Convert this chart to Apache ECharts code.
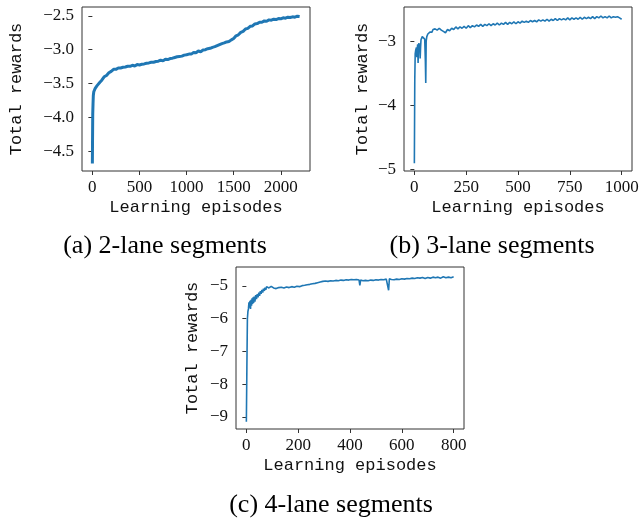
<!DOCTYPE html>
<html>
<head>
<meta charset="utf-8">
<script src="https://cdn.jsdelivr.net/npm/echarts@6/dist/echarts.min.js"></script>
<style>
  html, body { margin: 0; padding: 0; background: #fff; }
  #main { width: 644px; height: 521px; }
</style>
</head>
<body>
<div id="main"></div>
<script>
// (a) 2-lane segments
var epA = [0, 2, 4, 7, 10, 15, 20, 30, 40, 50, 65, 80, 100, 125, 150, 175, 200,
  225, 250, 275, 300, 325, 350, 375, 400, 425, 450, 475, 500, 525, 550, 575, 600,
  625, 650, 675, 700, 725, 750, 775, 800, 825, 850, 875, 900, 925, 950, 975, 1000,
  1025, 1050, 1075, 1100, 1125, 1150, 1175, 1200, 1225, 1250, 1275, 1300, 1325, 1350,
  1375, 1400, 1425, 1450, 1475, 1500, 1525, 1550, 1575, 1600, 1625, 1650, 1675, 1700,
  1725, 1750, 1775, 1800, 1825, 1850, 1875, 1900, 1925, 1950, 1975, 2000, 2025, 2050,
  2075, 2100, 2125, 2150, 2175, 2200];
var rewardA = [-4.68, -4.30, -3.95, -3.80, -3.68, -3.62, -3.60, -3.57, -3.56, -3.53, -3.52, -3.48, -3.45, -3.40, -3.38, -3.34, -3.32,
  -3.29, -3.29, -3.27, -3.27, -3.26, -3.255, -3.245, -3.245, -3.23, -3.24, -3.22, -3.225, -3.215, -3.21, -3.20, -3.195,
  -3.185, -3.185, -3.175, -3.17, -3.155, -3.165, -3.14, -3.145, -3.13, -3.125, -3.115, -3.105, -3.10, -3.095, -3.08, -3.075,
  -3.065, -3.065, -3.04, -3.045, -3.02, -3.03, -3.005, -3.0, -2.985, -2.98, -2.965, -2.955, -2.94, -2.925,
  -2.91, -2.90, -2.885, -2.88, -2.855, -2.835, -2.795, -2.78, -2.745, -2.73, -2.695, -2.685, -2.655, -2.65,
  -2.62, -2.615, -2.595, -2.595, -2.575, -2.58, -2.56, -2.565, -2.55, -2.555, -2.54, -2.545, -2.53, -2.535,
  -2.52, -2.525, -2.515, -2.52, -2.505, -2.51];

// (b) 3-lane segments
var epB = [0, 2, 4, 6, 8, 10, 12, 14, 16, 18, 20, 22, 24, 26, 28, 30, 32, 35, 38, 42, 46, 50, 53, 55, 57,
  60, 65, 70, 75, 80, 85, 90, 95,
  100, 110, 120, 130, 140, 150, 160, 170, 180, 190, 200, 210, 220, 230, 240, 250, 260, 270, 280, 290,
  300, 310, 320, 330, 340, 350, 360, 370, 380, 390, 400, 410, 420, 430, 440, 450, 460, 470, 480, 490,
  500, 510, 520, 530, 540, 550, 560, 570, 580, 590, 600, 610, 620, 630, 640, 650, 660, 670, 680, 690,
  700, 710, 720, 730, 740, 750, 760, 770, 780, 790, 800, 810, 820, 830, 840, 850, 860, 870, 880, 890,
  900, 910, 920, 930, 940, 950, 960, 970, 980, 990, 1000];
var rewardB = [-4.90, -3.60, -3.20, -3.15, -3.12, -3.10, -3.25, -3.12, -3.05, -3.34, -3.08, -3.03, -3.10, -3.05, -3.27, -3.10, -2.98, -2.95, -2.93, -2.91, -2.94, -2.97, -3.30, -3.65, -3.00,
  -2.93, -2.89, -2.87, -2.86, -2.84, -2.86, -2.82, -2.84,
  -2.81, -2.83, -2.80, -2.83, -2.85, -2.87, -2.82, -2.84, -2.80, -2.82, -2.78, -2.81, -2.78, -2.80, -2.77, -2.80, -2.76, -2.79, -2.76, -2.78,
  -2.75, -2.77, -2.74, -2.77, -2.74, -2.76, -2.73, -2.76, -2.73, -2.75, -2.72, -2.75, -2.72, -2.74, -2.71, -2.74, -2.71, -2.73, -2.70, -2.73,
  -2.70, -2.72, -2.69, -2.71, -2.69, -2.71, -2.68, -2.70, -2.68, -2.70, -2.67, -2.69, -2.67, -2.69, -2.66, -2.69, -2.66, -2.68, -2.65, -2.68,
  -2.65, -2.67, -2.65, -2.67, -2.64, -2.67, -2.64, -2.66, -2.64, -2.66, -2.63, -2.66, -2.63, -2.65, -2.63, -2.65, -2.62, -2.65, -2.62, -2.64,
  -2.61, -2.64, -2.62, -2.64, -2.61, -2.64, -2.62, -2.63, -2.62, -2.64, -2.66];

// (c) 4-lane segments
var epC = [0, 2, 4, 6, 8, 10, 12, 14, 16, 18, 20, 22, 24, 26, 28, 30, 33, 36, 39, 42, 45, 48, 51, 54, 57, 60,
  63, 66, 69, 72, 75, 78, 81, 84, 87, 90, 93, 96,
  100, 105, 110, 115, 120, 125, 130, 135, 140, 145, 150, 155, 160, 165, 170, 175, 180, 185, 190, 195,
  200, 205, 210, 215, 220, 225, 230, 235, 240, 245, 250, 255, 260, 265, 270, 275, 280, 285, 290, 295,
  300, 305, 310, 315, 320, 325, 330, 335, 340, 345, 350, 355, 360, 365, 370, 375, 380, 385, 390, 395,
  400, 405, 410, 415, 420, 425, 430, 435, 438, 441, 445, 450, 455, 460, 465, 470, 475, 480, 485, 490, 495,
  500, 505, 510, 515, 520, 525, 530, 535, 540, 545, 549, 552, 555, 560, 565, 570, 575, 580, 585, 590, 595,
  600, 605, 610, 615, 620, 625, 630, 635, 640, 645, 650, 655, 660, 665, 670, 675, 680, 685, 690, 695,
  700, 705, 710, 715, 720, 725, 730, 735, 740, 745, 750, 755, 760, 765, 770, 775, 780, 785, 790, 795, 800];
var rewardC = [-9.15, -7.5, -6.0, -5.78, -5.70, -5.50, -5.66, -5.45, -5.70, -5.42, -5.60, -5.38, -5.55, -5.35, -5.52, -5.32, -5.48, -5.28, -5.40, -5.25, -5.35, -5.20, -5.30, -5.16, -5.24, -5.12,
  -5.20, -5.08, -5.15, -5.05, -5.12, -5.02, -5.08, -5.01, -5.06, -5.00, -5.05, -5.01,
  -5.01, -5.06, -5.03, -5.08, -5.13, -5.05, -5.09, -5.04, -5.10, -5.06, -5.08, -5.03, -5.09, -5.05, -5.07, -5.02, -5.08, -5.04, -5.06, -5.01,
  -5.07, -5.02, -5.05, -4.99, -5.04, -4.98, -5.03, -4.96, -5.01, -4.95, -5.00, -4.93, -4.98, -4.92, -4.96, -4.90, -4.94, -4.88, -4.92, -4.86,
  -4.90, -4.85, -4.91, -4.86, -4.89, -4.84, -4.90, -4.85, -4.88, -4.83, -4.89, -4.84, -4.87, -4.82, -4.88, -4.83, -4.86, -4.81, -4.87, -4.82,
  -4.85, -4.80, -4.86, -4.81, -4.84, -4.80, -4.85, -4.82, -4.98, -4.82, -4.80, -4.84, -4.79, -4.83, -4.78, -4.84, -4.79, -4.82, -4.77, -4.83, -4.78,
  -4.81, -4.76, -4.82, -4.77, -4.80, -4.75, -4.81, -4.76, -4.79, -4.75, -5.13, -4.78, -4.76, -4.80, -4.75, -4.81, -4.76, -4.79, -4.74, -4.80, -4.75,
  -4.78, -4.73, -4.79, -4.74, -4.77, -4.72, -4.78, -4.73, -4.76, -4.71, -4.77, -4.72, -4.75, -4.70, -4.76, -4.71, -4.74, -4.70, -4.77, -4.71,
  -4.74, -4.70, -4.76, -4.71, -4.73, -4.69, -4.75, -4.70, -4.73, -4.69, -4.76, -4.70, -4.72, -4.69, -4.75, -4.70, -4.73, -4.69, -4.75, -4.70, -4.72];

// tick labels
var xTicksA = [0, 500, 1000, 1500, 2000];
var yTicksA = [-4.5, -4.0, -3.5, -3.0, -2.5];
var xTicksB = [0, 250, 500, 750, 1000];
var yTicksB = [-5, -4, -3];
var xTicksC = [0, 200, 400, 600, 800];
var yTicksC = [-9, -8, -7, -6, -5];

var captions = ['(a) 2-lane segments', '(b) 3-lane segments', '(c) 4-lane segments'];

function pairs(xs, ys) {
  return xs.map(function (x, i) { return [x, ys[i]]; });
}

var tickFont = { fontFamily: 'Liberation Serif', fontSize: 17, color: '#111' };
var nameFont = { fontFamily: 'Liberation Mono', fontSize: 17, color: '#111' };
var capFont = { fontFamily: 'Liberation Serif', fontSize: 26, fontWeight: 'normal', color: '#000' };

function fmtY(decimals) {
  return function (v) {
    return (v < 0 ? '\u2212' : '') + Math.abs(v).toFixed(decimals);
  };
}

function xAxis(idx, min, max, ticks) {
  return {
    type: 'value', gridIndex: idx, min: min, max: max,
    name: 'Learning episodes', nameLocation: 'middle', nameGap: 28, nameTextStyle: nameFont,
    axisLine: { show: false },
    axisTick: { show: true, length: 4, customValues: ticks, lineStyle: { color: '#333' } },
    axisLabel: Object.assign({ customValues: ticks, margin: 8, formatter: function (v) { return String(v); } }, tickFont),
    splitLine: { show: false }
  };
}

function yAxis(idx, min, max, ticks, decimals, gap) {
  return {
    type: 'value', gridIndex: idx, min: min, max: max,
    name: 'Total rewards', nameLocation: 'middle', nameGap: gap, nameTextStyle: nameFont,
    axisLine: { show: false },
    axisTick: { show: true, length: 4, customValues: ticks, lineStyle: { color: '#333' } },
    axisLabel: Object.assign({ customValues: ticks, margin: 8, formatter: fmtY(decimals) }, tickFont),
    splitLine: { show: false }
  };
}

var gridStyle = { show: true, borderColor: '#333', borderWidth: 1, backgroundColor: 'transparent' };

var chart = echarts.init(document.getElementById('main'), null, { renderer: 'canvas' });
chart.setOption({
  animation: false,
  title: [
    { text: captions[0], left: 160, top: 228, textAlign: 'center', textStyle: capFont },
    { text: captions[1], left: 487, top: 228, textAlign: 'center', textStyle: capFont },
    { text: captions[2], left: 326, top: 487, textAlign: 'center', textStyle: capFont }
  ],
  grid: [
    Object.assign({ left: 82, top: 7, width: 228, height: 164 }, gridStyle),
    Object.assign({ left: 404, top: 7, width: 228, height: 164 }, gridStyle),
    Object.assign({ left: 236, top: 267, width: 228, height: 162 }, gridStyle)
  ],
  xAxis: [
    xAxis(0, -110, 2310, xTicksA),
    xAxis(1, -50, 1050, xTicksB),
    xAxis(2, -40, 840, xTicksC)
  ],
  yAxis: [
    yAxis(0, -4.79, -2.37, yTicksA, 1, 57),
    yAxis(1, -5.02, -2.47, yTicksB, 0, 33),
    yAxis(2, -9.37, -4.42, yTicksC, 0, 35)
  ],
  series: [
    { type: 'line', xAxisIndex: 0, yAxisIndex: 0, data: pairs(epA, rewardA), showSymbol: false,
      lineStyle: { color: '#1f77b4', width: 3 } },
    { type: 'line', xAxisIndex: 1, yAxisIndex: 1, data: pairs(epB, rewardB), showSymbol: false,
      lineStyle: { color: '#1f77b4', width: 1.6 } },
    { type: 'line', xAxisIndex: 2, yAxisIndex: 2, data: pairs(epC, rewardC), showSymbol: false,
      lineStyle: { color: '#1f77b4', width: 1.6 } }
  ]
});
</script>
</body>
</html>
